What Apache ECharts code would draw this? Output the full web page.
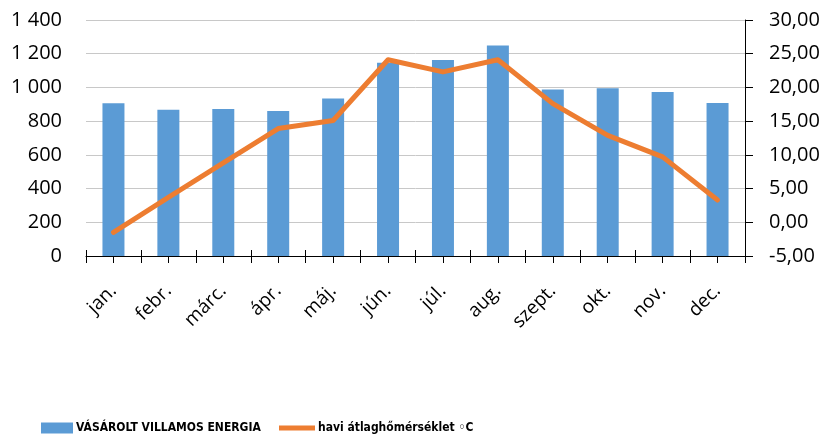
<!DOCTYPE html>
<html>
<head>
<meta charset="utf-8">
<script src="https://cdn.jsdelivr.net/npm/echarts@6/dist/echarts.min.js"></script>
<style>
  html, body { margin: 0; padding: 0; background: #fff; }
  #chart { width: 834px; height: 441px; }
</style>
</head>
<body>
<div id="chart"></div>
<script>
// havi adatok
var months = ['jan.', 'febr.', 'márc.', 'ápr.', 'máj.', 'jún.', 'júl.', 'aug.', 'szept.', 'okt.', 'nov.', 'dec.'];
var energy = [906, 868, 872, 860, 935, 1147, 1163, 1248, 987, 995, 973, 908];
var temperature = [-1.5, 3.7, 8.8, 13.9, 15.1, 24.1, 22.3, 24.1, 17.6, 12.9, 9.7, 3.3];
var energyName = 'VÁSÁROLT VILLAMOS ENERGIA';
var tempName = 'havi átlaghőmérséklet ◦C';

var font = '"Open Sans", "Noto Sans", sans-serif';
var legendFont = '"DejaVu Sans Condensed", "DejaVu Sans", sans-serif';

var chart = echarts.init(document.getElementById('chart'));

// segéd tengely (felül, lehúzva az aljára) a kereszt alakú osztásokhoz
function tickAxis(centered) {
  return {
    type: 'category',
    data: months,
    position: 'top',
    offset: -243,
    axisLine: { show: false, onZero: false },
    axisLabel: { show: false },
    axisTick: { show: true, alignWithLabel: centered, interval: 0, length: 13, lineStyle: { color: '#000' } }
  };
}

function legendText(size) {
  return { fontFamily: legendFont, fontWeight: 'bold', fontSize: size, color: '#000', padding: [0, 0, 0, -2] };
}

var option = {
  animation: false,
  grid: { left: 86, right: 89, top: 20, bottom: 185 },
  legend: [
    {
      left: 41,
      top: 422,
      padding: 0,
      itemWidth: 32,
      itemHeight: 11,
      textStyle: legendText(12),
      data: [{ name: energyName, icon: 'rect' }]
    },
    {
      left: 279,
      top: 422,
      padding: 0,
      itemWidth: 36,
      itemHeight: 11,
      textStyle: legendText(12),
      data: [{ name: tempName, icon: 'path://M0,3 L36,3 L36,8 L0,8 Z' }]
    }
  ],
  xAxis: [
    {
      type: 'category',
      data: months,
      position: 'bottom',
      axisLine: { onZero: false, lineStyle: { color: '#000', width: 1 } },
      axisTick: { show: false },
      axisLabel: {
        rotate: 45,
        margin: 32,
        interval: 0,
        fontFamily: font,
        fontSize: 19,
        color: '#000'
      }
    },
    tickAxis(false),
    tickAxis(true)
  ],
  yAxis: [
    {
      type: 'value',
      min: 0,
      max: 1400,
      interval: 200,
      axisLine: { show: false },
      axisTick: { show: false },
      splitLine: { lineStyle: { color: '#c8c8c8', width: 1 } },
      axisLabel: {
        margin: 24,
        fontFamily: font,
        fontSize: 20,
        color: '#000',
        formatter: function (v) {
          return String(v).replace(/\B(?=(\d{3})+(?!\d))/g, ' ');
        }
      }
    },
    {
      type: 'value',
      min: -5,
      max: 30,
      interval: 5,
      position: 'right',
      axisLine: { show: true, lineStyle: { color: '#000', width: 1 } },
      axisTick: { show: true, length: 8, lineStyle: { color: '#000' } },
      splitLine: { show: false },
      axisLabel: {
        margin: 24,
        fontFamily: font,
        fontSize: 20,
        color: '#000',
        formatter: function (v) {
          return v.toFixed(2).replace('.', ',');
        }
      }
    }
  ],
  series: [
    {
      name: energyName,
      type: 'bar',
      data: energy,
      barWidth: 22,
      itemStyle: { color: '#5B9BD5' }
    },
    {
      name: tempName,
      type: 'line',
      yAxisIndex: 1,
      data: temperature,
      symbol: 'none',
      lineStyle: { color: '#ED7D31', width: 5, cap: 'round', join: 'round' },
      itemStyle: { color: '#ED7D31' }
    }
  ]
};

chart.setOption(option);
</script>
</body>
</html>
